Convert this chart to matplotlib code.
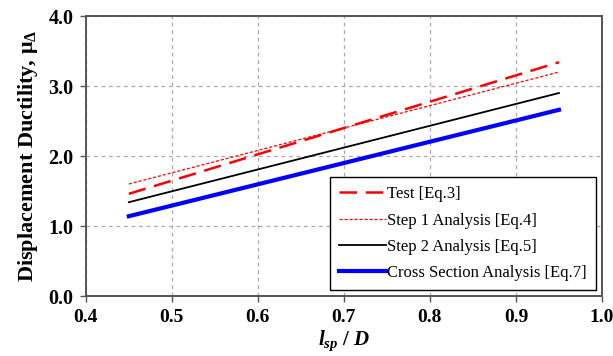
import matplotlib
matplotlib.use("Agg")
import matplotlib.pyplot as plt

plt.rcParams["font.family"] = ["Liberation Serif", "DejaVu Serif"]
plt.rcParams["mathtext.fontset"] = "custom"
plt.rcParams["mathtext.rm"] = "Liberation Serif"
plt.rcParams["mathtext.it"] = "Liberation Serif:italic:bold"
plt.rcParams["mathtext.bf"] = "Liberation Serif:bold"

# lsp/D end points of each fitted line
x_span = [0.45, 0.95]
test_eq3 = [1.46, 3.34]
step1_eq4 = [1.60, 3.20]
step2_eq5 = [1.34, 2.90]
cross_eq7 = [1.14, 2.66]

x_ticks = [0.4, 0.5, 0.6, 0.7, 0.8, 0.9, 1.0]
y_ticks = [0.0, 1.0, 2.0, 3.0, 4.0]

fig = plt.figure(figsize=(6.13, 3.56), dpi=100)
ax = fig.add_axes([0.140, 0.1685, 0.842, 0.7865])

ax.plot(x_span, test_eq3, color="red", lw=1.8, dashes=(7, 3.5), label="Test [Eq.3]")
ax.plot(x_span, step1_eq4, color="red", lw=0.9, dashes=(2.5, 1.5), label="Step 1 Analysis [Eq.4]")
ax.plot(x_span, step2_eq5, color="black", lw=1.3, label="Step 2 Analysis [Eq.5]")
ax.plot(x_span, cross_eq7, color="#0000ff", lw=3.0, label="Cross Section Analysis [Eq.7]")

ax.set_xlim(0.4, 1.0)
ax.set_ylim(0.0, 4.0)
ax.set_xticks(x_ticks)
ax.set_yticks(y_ticks)
ax.set_xticklabels([f"{v:.1f}" for v in x_ticks], fontweight="bold", fontsize=14)
ax.set_yticklabels([f"{v:.1f}" for v in y_ticks], fontweight="bold", fontsize=14.5)
ax.tick_params(direction="out", length=4, width=1, color="#555555", pad=5)

ax.grid(True, color="#aaaaaa", linestyle=(0, (3, 3)), lw=0.9)
for s in ax.spines.values():
    s.set_linewidth(1.4)
    s.set_color("#555555")

ax.set_ylabel(r"Displacement Ductility, $\mathbf{\mu}_{\mathbf{\Delta}}$",
              fontweight="bold", fontsize=16, labelpad=6)
ax.set_xlabel(r"$l_{sp}$ / $D$", fontweight="bold", fontsize=15, labelpad=2)

leg = ax.legend(loc="lower right", fontsize=12, frameon=True, fancybox=False,
                edgecolor="black", framealpha=1, handlelength=2.8,
                handletextpad=0.1, labelspacing=0.62, borderpad=0.55,
                bbox_to_anchor=(1.005, -0.01))
leg.get_frame().set_linewidth(1.0)

fig.savefig("out.png", dpi=100)
